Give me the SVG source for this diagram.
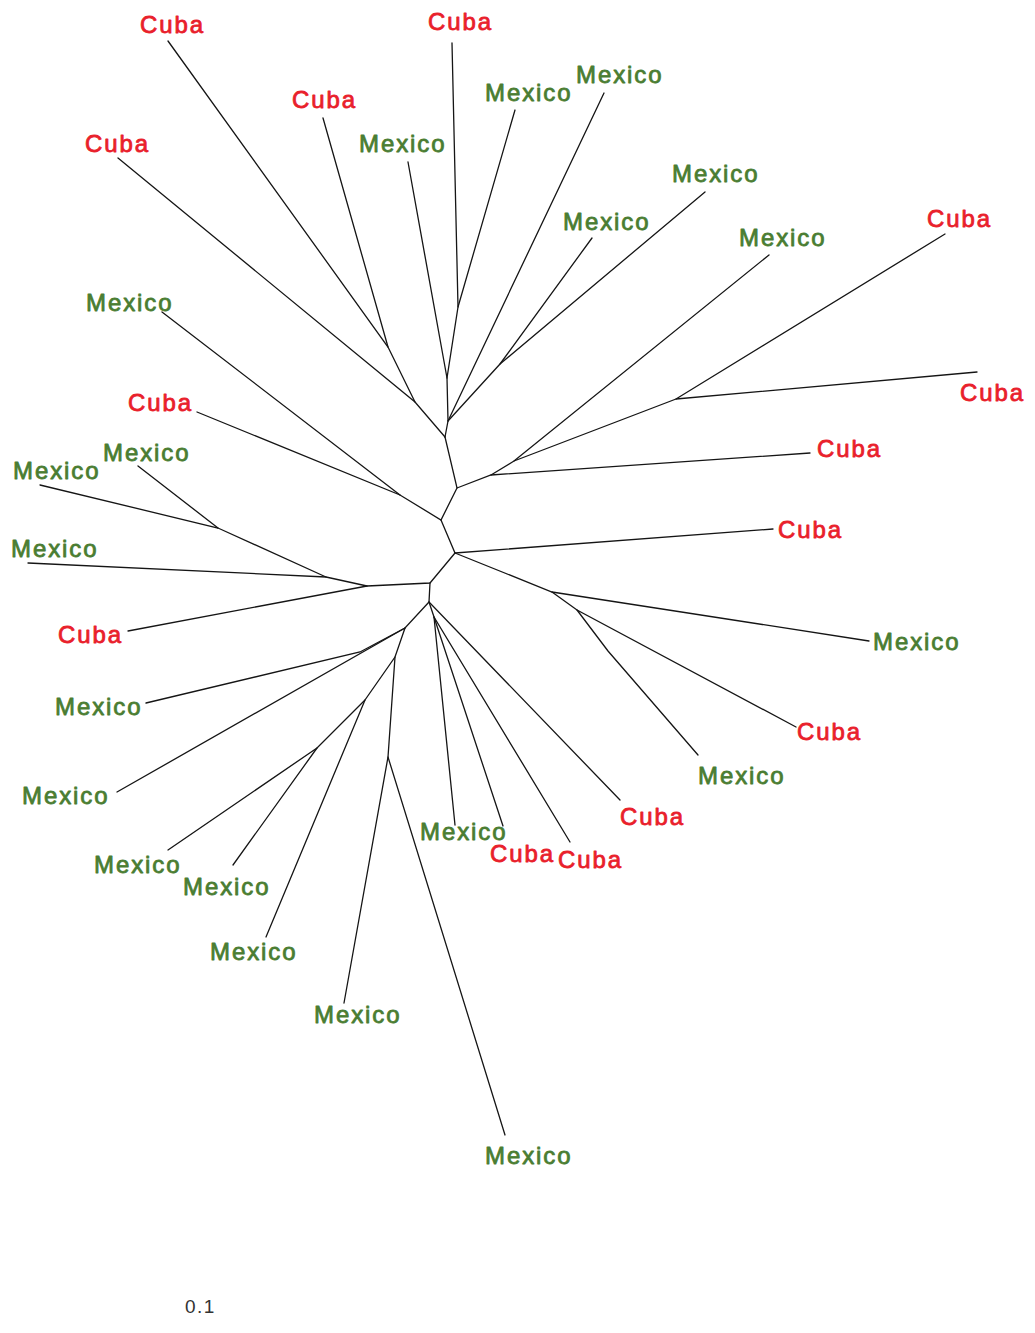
<svg xmlns="http://www.w3.org/2000/svg" width="1035" height="1333" viewBox="0 0 1035 1333">
<style>
.bg{fill:#ffffff}
.e{stroke:#151515;stroke-width:1.3;fill:none;stroke-linecap:round}
.lbl{font-family:"Liberation Sans",Arial,sans-serif;font-size:24px;letter-spacing:1.9px;stroke-width:0.8;stroke-linejoin:round}
.cu{fill:#e9202b;stroke:#e9202b}
.mx{fill:#4a7d32;stroke:#4a7d32}
.sc{font-family:"Liberation Sans",Arial,sans-serif;font-size:19px;letter-spacing:1.5px;fill:#333333}
</style>
<rect class="bg" x="0" y="0" width="1035" height="1333"/>
<g id="connectors">
<polyline class="e" points="445,437 448,421 447,378 458,307 452,43"/>
<line class="e" x1="458" y1="307" x2="515" y2="110"/>
<line class="e" x1="447" y1="378" x2="408" y2="162"/>
<line class="e" x1="448" y1="421" x2="604" y2="93"/>
<polyline class="e" points="448,421 500,364 592,238"/>
<line class="e" x1="500" y1="364" x2="705" y2="192"/>
<polyline class="e" points="445,437 415,402 118,158"/>
<polyline class="e" points="415,402 388,347 168,41"/>
<line class="e" x1="388" y1="347" x2="323" y2="118"/>
<polyline class="e" points="445,437 457,488 491,475 810,453"/>
<polyline class="e" points="491,475 514,461 769,255"/>
<polyline class="e" points="514,461 676,399 945,234"/>
<line class="e" x1="676" y1="399" x2="977" y2="372"/>
<polyline class="e" points="457,488 441,520 400,495 197,412"/>
<line class="e" x1="400" y1="495" x2="162" y2="312"/>
<polyline class="e" points="441,520 455,553 773,529"/>
<polyline class="e" points="455,553 552,592 869,641"/>
<polyline class="e" points="552,592 577,610 796,727"/>
<polyline class="e" points="577,610 608,651 698,755"/>
<polyline class="e" points="455,553 430,583 367,586 128,631"/>
<polyline class="e" points="367,586 326,577 28,563"/>
<polyline class="e" points="326,577 218,528 40,485"/>
<line class="e" x1="218" y1="528" x2="138" y2="466"/>
<polyline class="e" points="430,583 429,602 620,800"/>
<polyline class="e" points="429,602 434,617 570,842"/>
<line class="e" x1="434" y1="617" x2="503" y2="826"/>
<line class="e" x1="434" y1="617" x2="455" y2="825"/>
<polyline class="e" points="429,602 405,628 360,652 146,703"/>
<line class="e" x1="405" y1="628" x2="117" y2="792"/>
<polyline class="e" points="405,628 395,657 365,700 266,937"/>
<polyline class="e" points="365,700 317,748 168,850"/>
<line class="e" x1="317" y1="748" x2="233" y2="865"/>
<polyline class="e" points="395,657 388,757 344,1003"/>
<line class="e" x1="388" y1="757" x2="505" y2="1135"/>
</g>
<g id="leaf1"><text class="lbl cu" x="140" y="33">Cuba</text></g>
<g id="leaf2"><text class="lbl cu" x="428" y="30">Cuba</text></g>
<g id="leaf3"><text class="lbl cu" x="292" y="108">Cuba</text></g>
<g id="leaf4"><text class="lbl cu" x="85" y="152">Cuba</text></g>
<g id="leaf5"><text class="lbl mx" x="359" y="152">Mexico</text></g>
<g id="leaf6"><text class="lbl mx" x="485" y="101">Mexico</text></g>
<g id="leaf7"><text class="lbl mx" x="576" y="83">Mexico</text></g>
<g id="leaf8"><text class="lbl mx" x="563" y="230">Mexico</text></g>
<g id="leaf9"><text class="lbl mx" x="672" y="182">Mexico</text></g>
<g id="leaf10"><text class="lbl mx" x="739" y="246">Mexico</text></g>
<g id="leaf11"><text class="lbl cu" x="927" y="227">Cuba</text></g>
<g id="leaf12"><text class="lbl cu" x="960" y="401">Cuba</text></g>
<g id="leaf13"><text class="lbl cu" x="817" y="457">Cuba</text></g>
<g id="leaf14"><text class="lbl cu" x="778" y="538">Cuba</text></g>
<g id="leaf15"><text class="lbl mx" x="873" y="650">Mexico</text></g>
<g id="leaf16"><text class="lbl cu" x="797" y="740">Cuba</text></g>
<g id="leaf17"><text class="lbl mx" x="698" y="784">Mexico</text></g>
<g id="leaf18"><text class="lbl cu" x="620" y="825">Cuba</text></g>
<g id="leaf19"><text class="lbl cu" x="558" y="868">Cuba</text></g>
<g id="leaf20"><text class="lbl cu" x="490" y="862">Cuba</text></g>
<g id="leaf21"><text class="lbl mx" x="420" y="840">Mexico</text></g>
<g id="leaf22"><text class="lbl mx" x="485" y="1164">Mexico</text></g>
<g id="leaf23"><text class="lbl mx" x="314" y="1023">Mexico</text></g>
<g id="leaf24"><text class="lbl mx" x="210" y="960">Mexico</text></g>
<g id="leaf25"><text class="lbl mx" x="183" y="895">Mexico</text></g>
<g id="leaf26"><text class="lbl mx" x="94" y="873">Mexico</text></g>
<g id="leaf27"><text class="lbl mx" x="22" y="804">Mexico</text></g>
<g id="leaf28"><text class="lbl mx" x="55" y="715">Mexico</text></g>
<g id="leaf29"><text class="lbl cu" x="58" y="643">Cuba</text></g>
<g id="leaf30"><text class="lbl mx" x="11" y="557">Mexico</text></g>
<g id="leaf31"><text class="lbl mx" x="13" y="479">Mexico</text></g>
<g id="leaf32"><text class="lbl mx" x="103" y="461">Mexico</text></g>
<g id="leaf33"><text class="lbl cu" x="128" y="411">Cuba</text></g>
<g id="leaf34"><text class="lbl mx" x="86" y="311">Mexico</text></g>
<g id="scale"><text class="sc" x="185" y="1313">0.1</text></g>
</svg>
